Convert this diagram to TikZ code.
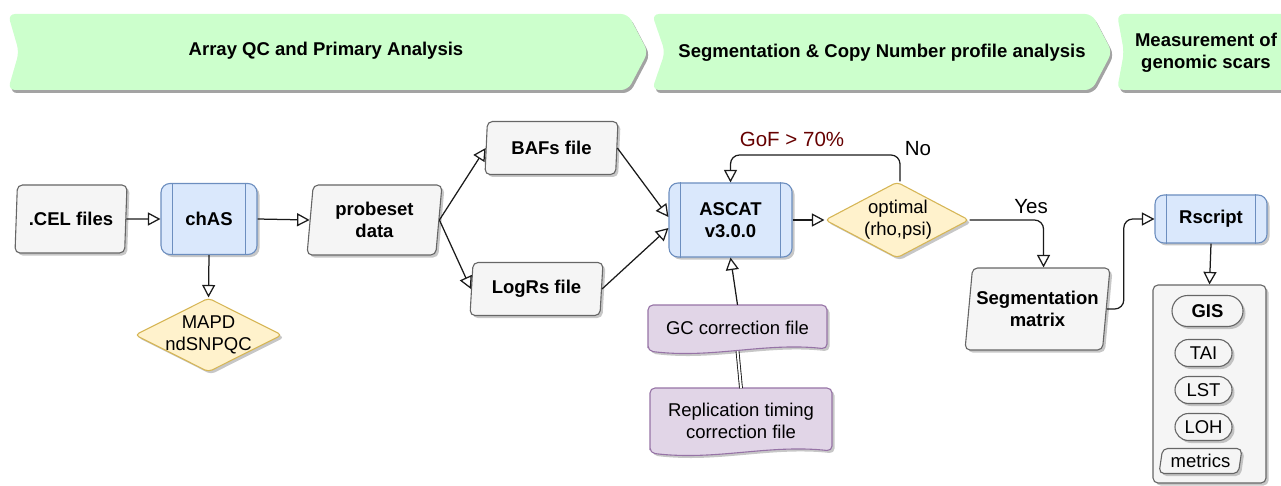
\documentclass[tikz,border=0pt]{standalone}
\usepackage{fontspec}
\setmainfont{Liberation Sans}
\usetikzlibrary{shapes.geometric,shapes.misc,arrows.meta,shadows,calc}

\definecolor{bannerfill}{HTML}{CCFFCC}
\definecolor{datafill}{HTML}{F5F5F5}
\definecolor{dataline}{HTML}{666666}
\definecolor{procfill}{HTML}{DAE8FC}
\definecolor{procline}{HTML}{6C8EBF}
\definecolor{decfill}{HTML}{FFF2CC}
\definecolor{decline}{HTML}{D6B656}
\definecolor{docfill}{HTML}{E1D5E7}
\definecolor{docline}{HTML}{9673A6}
\definecolor{edgecol}{HTML}{1A1A1A}
\definecolor{gofcol}{HTML}{660000}

\newcommand\dgfont{\fontsize{18.5}{22}\selectfont}
\newcommand\lblfont{\fontsize{20.5}{24}\selectfont}

\tikzset{
  softshadow/.style={drop shadow={shadow xshift=2.5pt, shadow yshift=-2.5pt, fill=black!40, opacity=0.55}},
  banner/.style={fill=bannerfill, rounded corners=7pt,
    drop shadow={shadow xshift=2pt, shadow yshift=-3pt, fill=black!45, opacity=0.8}},
  bannertext/.style={font=\bfseries\dgfont, align=center, inner sep=0pt},
  txt/.style={font=\dgfont, align=center, inner sep=0pt},
  databox/.style={trapezium, trapezium left angle=80, trapezium right angle=100,
    trapezium stretches body, draw=dataline, fill=datafill, line width=1.1pt,
    rounded corners=5pt, softshadow, inner sep=0pt, align=center, font=\bfseries\dgfont},
  procbox/.style={rectangle, draw=procline, fill=procfill, line width=1.1pt,
    rounded corners=9pt, softshadow, inner sep=0pt, align=center, font=\bfseries\dgfont},
  decision/.style={diamond, aspect=2, draw=decline, fill=decfill, line width=1.1pt,
    rounded corners=4pt, softshadow, inner sep=0pt},
  docshape/.style={draw=docline, fill=docfill, line width=1.1pt, rounded corners=5pt, softshadow},
  pill/.style={rounded rectangle, draw=dataline, fill=datafill, line width=1.1pt,
    softshadow, inner sep=0pt, font=\dgfont},
  flow/.style={draw=edgecol, line width=1.25pt, -{Triangle[open, length=12.5pt, width=13pt]}},
  plainlink/.style={draw=edgecol, line width=1.2pt},
  edgelabel/.style={font=\lblfont, inner sep=0pt},
}

\begin{document}
\begin{tikzpicture}[x=1pt, y=-1pt]
\useasboundingbox (0,0) rectangle (1281,486);

% phase banners
\path[banner] (8,14) -- (628,14) -- (648,52) -- (628,90) -- (8,90) -- (19,52) -- cycle;
\node[bannertext] (phase1) at (326,51) {Array QC and Primary Analysis};
\path[banner] (652,14) -- (1092,14) -- (1112,52) -- (1092,90) -- (652,90) -- (665,52) -- cycle;
\node[bannertext] (phase2) at (882,53) {Segmentation \& Copy Number profile analysis};
\begin{scope}
  \clip (0,0) rectangle (1281,486);
  \path[banner] (1117,14) -- (1300,14) -- (1300,90) -- (1117,90) -- (1124,52) -- cycle;
\end{scope}
\node[bannertext] (phase3) at (1206,53) {Measurement of\\genomic scars};

% primary analysis
\node[databox, minimum width=112pt, minimum height=68pt] (cel) at (71,219) {.CEL files};
\node[procbox, minimum width=96pt, minimum height=71pt] (chas) at (209,219) {chAS};
\node[decision, minimum width=147pt, minimum height=74pt] (mapd) at (208.5,335) {};
\node[txt] (mapdtext) at (208.5,335) {MAPD\\ndSNPQC};
\node[databox, minimum width=135pt, minimum height=70pt] (probe) at (374.5,220) {probeset\\data};
\node[databox, minimum width=133pt, minimum height=53pt] (baf) at (551.5,148) {BAFs file};
\node[databox, minimum width=133pt, minimum height=53pt] (logr) at (536.5,289) {LogRs file};

% segmentation
\node[procbox, minimum width=123pt, minimum height=74pt] (ascat) at (730.5,220) {ASCAT\\v3.0.0};
\node[decision, minimum width=144pt, minimum height=76pt] (opt) at (897,220) {};
\node[txt] (opttext) at (898,220) {optimal\\(rho,psi)};
\node[txt, minimum width=179pt, minimum height=46pt] (gc) at (737.5,328) {};
\node[txt, minimum width=182pt, minimum height=65pt] (rep) at (741,421) {};
\node[databox, trapezium left angle=78, trapezium right angle=102,
  minimum width=145pt, minimum height=82pt] (segm) at (1037.5,309) {Segmentation\\matrix};

% genomic scars
\node[procbox, minimum width=112pt, minimum height=48pt] (rscript) at (1211,219) {Rscript};
\node[databox, trapezium left angle=88.8, trapezium right angle=91.2,
  minimum width=113pt, minimum height=198pt] (scars) at (1209.5,384) {};
\node[pill, minimum width=71pt, minimum height=31pt, font=\bfseries\dgfont] (gis) at (1207.5,311) {GIS};
\node[pill, minimum width=57pt, minimum height=27pt] (tai) at (1203.5,353) {TAI};
\node[pill, minimum width=57pt, minimum height=27pt] (lst) at (1203.5,390) {LST};
\node[pill, minimum width=57pt, minimum height=27pt] (loh) at (1203.5,427) {LOH};
\node[databox, trapezium left angle=75, trapezium right angle=105, font=\dgfont,
  minimum width=83pt, minimum height=25pt] (metrics) at (1200.5,461) {metrics};

% inner bars of the process boxes
\foreach \n in {chas,ascat,rscript}
  \draw[procline, line width=1.1pt]
    ([xshift=12pt]\n.north west) -- ([xshift=12pt]\n.south west)
    ([xshift=-12pt]\n.north east) -- ([xshift=-12pt]\n.south east);

% correction files (document shapes with a wavy foot)
\path[docshape] (648,351) -- (648,305) -- (827,305) -- (827,349)
  .. controls (765,342) and (712,359) .. (648,351) -- cycle;
\path[docshape] (650,453) -- (650,388) -- (832,388) -- (832,451)
  .. controls (768,444) and (716,461) .. (650,453) -- cycle;
\node[txt] (gctext) at (gc) {GC correction file};
\node[txt] (reptext) at (rep) {Replication timing\\correction file};

% connectors
\draw[flow] (cel.east) -- (chas.west);
\draw[flow] (chas.east) -- (probe.west);
\draw[flow] (chas.south) -- (mapd.north);
\draw[flow] (probe.east) -- (baf.west);
\draw[flow] (probe.east) -- (logr.west);
\draw[flow] (baf.east) -- ([yshift=3pt]ascat.west);
\draw[flow] (logr.east) -- ([yshift=-8pt]ascat.west);
\draw[flow] (gc.north) -- (ascat.south);
\draw[plainlink, double=white, double distance=2pt, line width=0.9pt] (gc.south) -- (rep.north);
\draw[flow] (ascat.east) -- (opt.west);
\coordinate (looptop) at (0,155);
\draw[flow, rounded corners=9pt] ([xshift=3pt]opt.north) -- ([xshift=3pt]opt.north |- looptop)
  -- (ascat.north |- looptop) -- (ascat.north);
\draw[flow, rounded corners=9pt] (opt.east) -| ([xshift=6pt]segm.north);
\draw[flow, rounded corners=9pt] (segm.east) -- ++(17,0) |- (rscript.west);
\draw[flow] (rscript.south) -- (scars.north);

% edge labels
\node[edgelabel, text=gofcol] (gof) at (792,139) {GoF > 70\%};
\node[edgelabel] (no) at (918,149) {No};
\node[edgelabel] (yes) at (1031,207) {Yes};
\end{tikzpicture}
\end{document}
